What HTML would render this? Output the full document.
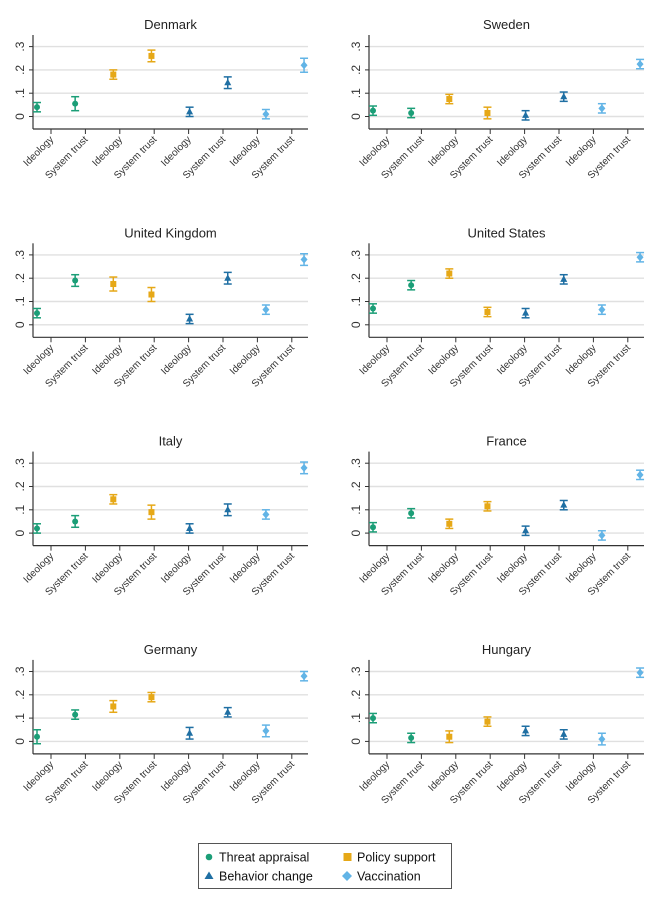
<!DOCTYPE html>
<html><head><meta charset="utf-8"><style>
body{margin:0;background:#fff;}
svg{display:block;font-family:"Liberation Sans",Arial,sans-serif;}
</style></head><body>
<svg id="chart" width="661" height="905"></svg>
<script>
const countries=["Denmark","Sweden","United Kingdom","United States","Italy","France","Germany","Hungary"];
const categories=["Ideology","System trust","Ideology","System trust","Ideology","System trust","Ideology","System trust"];
const seriesOf=[0,0,1,1,2,2,3,3];
const seriesNames=["Threat appraisal","Policy support","Behavior change","Vaccination"];
const colors=["#1b9e77","#e6a817","#1f6fa3","#62b4e6"];
const estimates=[
[0.04,0.055,0.18,0.26,0.02,0.145,0.01,0.22],
[0.025,0.015,0.075,0.015,0.005,0.085,0.035,0.225],
[0.05,0.19,0.175,0.13,0.025,0.20,0.065,0.28],
[0.07,0.17,0.22,0.055,0.05,0.195,0.065,0.29],
[0.02,0.05,0.145,0.09,0.02,0.10,0.08,0.28],
[0.025,0.085,0.04,0.115,0.01,0.12,-0.01,0.25],
[0.02,0.115,0.15,0.19,0.035,0.125,0.045,0.28],
[0.10,0.015,0.02,0.085,0.045,0.03,0.01,0.295]];
const halfCI=[
[0.02,0.03,0.02,0.025,0.02,0.025,0.02,0.03],
[0.02,0.02,0.02,0.025,0.02,0.02,0.02,0.02],
[0.02,0.025,0.03,0.03,0.02,0.025,0.02,0.025],
[0.02,0.02,0.02,0.02,0.02,0.02,0.02,0.02],
[0.02,0.025,0.02,0.03,0.02,0.025,0.02,0.025],
[0.02,0.02,0.02,0.02,0.02,0.02,0.02,0.02],
[0.03,0.02,0.025,0.02,0.025,0.02,0.025,0.02],
[0.02,0.02,0.025,0.02,0.02,0.02,0.025,0.02]];
const yTicks=[0,0.1,0.2,0.3];
const yTickLabels=["0",".1",".2",".3"];

const NS="http://www.w3.org/2000/svg";
const svg=document.getElementById('chart');
function mk(tag,attrs,parent){const e=document.createElementNS(NS,tag);for(const k in attrs)e.setAttribute(k,attrs[k]);(parent||svg).appendChild(e);return e;}

countries.forEach((c,pi)=>{
  const col=pi%2,row=Math.floor(pi/2);
  const ox=col*336, top=35+row*208.3;
  const axX=33+ox, bottom=top+94, right=308+ox;
  const zeroY=bottom-12.5, per=23.3;
  const y=v=>zeroY-v*per/0.1;
  const ptX=i=>37+ox+i*38.15;
  const tickX=i=>51+ox+i*34.4;
  const g=mk('g',{});
  
  
  const t=mk('text',{x:(axX+right)/2,y:top-6,'text-anchor':'middle','font-size':13,fill:'#222'},g);
  t.textContent=c;
  
  
  yTicks.forEach((v,k)=>{
    const gl=mk('line',{x1:axX,x2:right,y1:y(v),y2:y(v),stroke:'#e0e0e0','stroke-width':1.4},g);
    
    
    mk('line',{x1:axX-4,x2:axX,y1:y(v),y2:y(v),stroke:'#333'},g);
    const lt=mk('text',{x:0,y:0,'text-anchor':'middle','font-size':12,fill:'#333',transform:`translate(${axX-9},${y(v)}) rotate(-90)`},g);
    lt.textContent=yTickLabels[k];
    
    
  });
  mk('line',{x1:axX,x2:axX,y1:top,y2:bottom,stroke:'#333','stroke-width':1.2},g);
  mk('line',{x1:axX,x2:right,y1:bottom,y2:bottom,stroke:'#333','stroke-width':1.2},g);
  categories.forEach((cat,i)=>{
    const tx=tickX(i);
    mk('line',{x1:tx,x2:tx,y1:bottom,y2:bottom+5,stroke:'#333'},g);
    const lt=mk('text',{x:0,y:0,'text-anchor':'end','font-size':10,fill:'#333',transform:`translate(${tx+3},${bottom+11}) rotate(-45)`},g);
    lt.textContent=cat;
    
    
    const s=seriesOf[i],clr=colors[s],v=estimates[pi][i],h=halfCI[pi][i],px=ptX(i);
    const m=mk('g',{},g);
    
    
    mk('line',{x1:px,x2:px,y1:y(v+h),y2:y(v-h),stroke:clr,'stroke-width':1.5},m);
    mk('line',{x1:px-4,x2:px+4,y1:y(v+h),y2:y(v+h),stroke:clr,'stroke-width':1.5},m);
    mk('line',{x1:px-4,x2:px+4,y1:y(v-h),y2:y(v-h),stroke:clr,'stroke-width':1.5},m);
    const cy=y(v);
    if(s===0) mk('circle',{cx:px,cy:cy,r:3,fill:clr},m);
    else if(s===1) mk('rect',{x:px-3,y:cy-3,width:6,height:6,fill:clr},m);
    else if(s===2) mk('polygon',{points:`${px},${cy-4} ${px-3.5},${cy+2.5} ${px+3.5},${cy+2.5}`,fill:clr},m);
    else mk('polygon',{points:`${px},${cy-4} ${px+3.5},${cy} ${px},${cy+4} ${px-3.5},${cy}`,fill:clr},m);
  });
});
// legend
const lg=mk('g',{});


mk('rect',{x:198.5,y:843.5,width:253,height:45,fill:'#fff',stroke:'#555'},lg);
const lpos=[[207,857],[345,857],[207,876],[345,876]];
seriesNames.forEach((n,s)=>{
  const [lx,ly]=lpos[s],clr=colors[s];
  const e=mk('g',{},lg);
  
  
  if(s===0) mk('circle',{cx:lx+2,cy:ly,r:3.3,fill:clr},e);
  else if(s===1) mk('rect',{x:lx-1.5,y:ly-4,width:8,height:8,fill:clr},e);
  else if(s===2) mk('polygon',{points:`${lx+2},${ly-4.5} ${lx-2.5},${ly+3} ${lx+6.5},${ly+3}`,fill:clr},e);
  else mk('polygon',{points:`${lx+2},${ly-5} ${lx+7},${ly} ${lx+2},${ly+5} ${lx-3},${ly}`,fill:clr},e);
  const tt=mk('text',{x:lx+12,y:ly+4.5,'font-size':12.5,fill:'#111'},e);
  tt.textContent=n;
});
</script>
</body></html>
